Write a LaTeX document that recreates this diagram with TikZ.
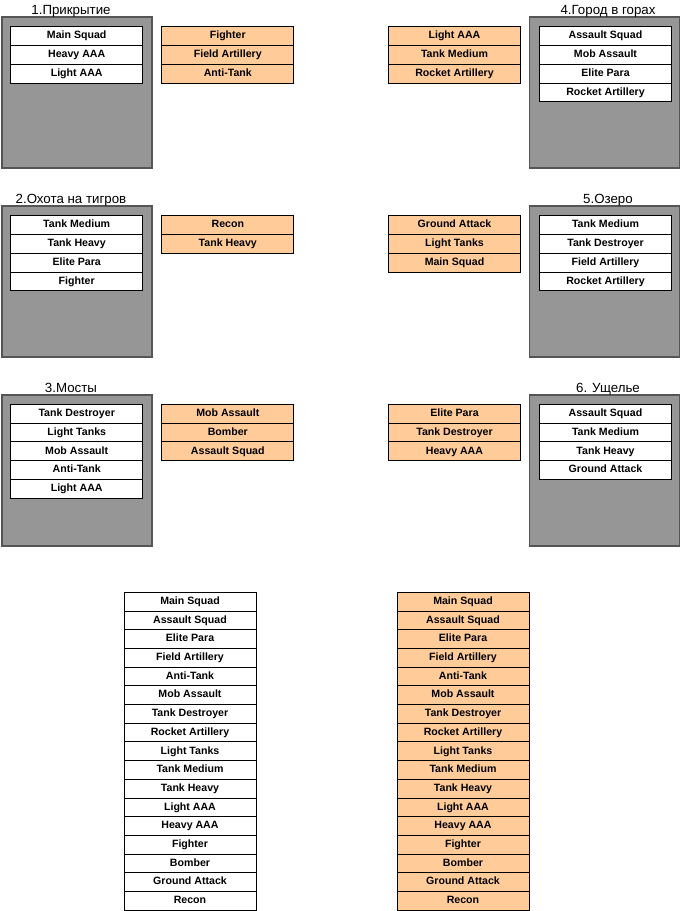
\documentclass[tikz,border=0pt]{standalone}
\usepackage{fontspec}
\setmainfont{Liberation Sans}
\definecolor{slate}{HTML}{969696}
\definecolor{slateline}{HTML}{555555}
\definecolor{peach}{HTML}{FFCC99}

\begin{document}
\begin{tikzpicture}[x=1pt, y=-1pt,
  every node/.style={font=\fontsize{10.6}{12}\selectfont\bfseries},
  unit/.style={draw=black, line width=0.9pt, minimum width=132pt, inner sep=0pt,
    text height=7.7pt, text depth=2.2pt},
  own/.style={unit, fill=white},
  pick/.style={unit, fill=peach}]
  \useasboundingbox (0,0) rectangle (682,911);

  % Map panels
  \foreach \x/\tx/\y/\id/\name in {
    2/71/17/1/1.Прикрытие,
    2/71/206/2/2.Охота на тигров,
    2/71/395/3/3.Мосты,
    529.5/608/17/4/4.Город в горах,
    529.5/608/206/5/5.Озеро,
    529.5/608/395/6/6. Ущелье}{
    \filldraw[fill=slate, draw=slateline, line width=1.4pt] (\x,\y) rectangle ++(150,151);
    \node[anchor=base, font=\fontsize{13.3}{16}\selectfont] (title\id) at (\tx,\y-2.5) {\name};
  }

  % Unit lists
  \foreach \cx/\top/\h/\st/\set/\items in {
    76.7/26.7/18.8/own/own1/{Main Squad, Heavy AAA, Light AAA},
    227.8/26.7/18.8/pick/pick1/{Fighter, Field Artillery, Anti-Tank},
    76.7/215.7/18.8/own/own2/{Tank Medium, Tank Heavy, Elite Para, Fighter},
    227.8/215.7/18.8/pick/pick2/{Recon, Tank Heavy},
    76.7/404.3/18.8/own/own3/{Tank Destroyer, Light Tanks, Mob Assault, Anti-Tank, Light AAA},
    227.8/404.3/18.8/pick/pick3/{Mob Assault, Bomber, Assault Squad},
    454.5/26.7/18.8/pick/pick4/{Light AAA, Tank Medium, Rocket Artillery},
    605.5/26.7/18.8/own/own4/{Assault Squad, Mob Assault, Elite Para, Rocket Artillery},
    454.5/215.7/18.8/pick/pick5/{Ground Attack, Light Tanks, Main Squad},
    605.5/215.7/18.8/own/own5/{Tank Medium, Tank Destroyer, Field Artillery, Rocket Artillery},
    454.5/404.3/18.8/pick/pick6/{Elite Para, Tank Destroyer, Heavy AAA},
    605.5/404.3/18.8/own/own6/{Assault Squad, Tank Medium, Tank Heavy, Ground Attack},
    190/592.3/18.7/own/allown/{Main Squad, Assault Squad, Elite Para, Field Artillery, Anti-Tank, Mob Assault, Tank Destroyer, Rocket Artillery, Light Tanks, Tank Medium, Tank Heavy, Light AAA, Heavy AAA, Fighter, Bomber, Ground Attack, Recon},
    463/592.3/18.7/pick/allpick/{Main Squad, Assault Squad, Elite Para, Field Artillery, Anti-Tank, Mob Assault, Tank Destroyer, Rocket Artillery, Light Tanks, Tank Medium, Tank Heavy, Light AAA, Heavy AAA, Fighter, Bomber, Ground Attack, Recon}}{
    \foreach \lbl [count=\i] in \items
      \node[\st, minimum height=\h] (\set-\i) at (\cx,\top+\i*\h-0.5*\h) {\lbl};
  }
\end{tikzpicture}
\end{document}
